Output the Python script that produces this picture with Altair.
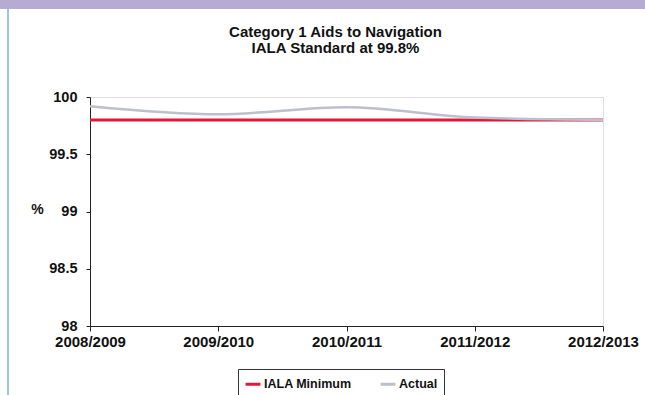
import altair as alt
import pandas as pd

years = ["2008/2009", "2009/2010", "2010/2011", "2011/2012", "2012/2013"]
actual = [99.92, 99.85, 99.91, 99.82, 99.80]
iala_min = [99.8, 99.8, 99.8, 99.8, 99.8]

series_names = ["IALA Minimum", "Actual"]
series_colors = ["#e3173a", "#bcbfcd"]

rows = []
for y, v in zip(years, iala_min):
    rows.append({"Year": y, "Value": v, "Series": "IALA Minimum"})
for y, v in zip(years, actual):
    rows.append({"Year": y, "Value": v, "Series": "Actual"})
df = pd.DataFrame(rows)

FONT = "Liberation Sans"

x_enc = alt.X("Year:N", sort=years,
              scale=alt.Scale(type="point", padding=0),
              axis=alt.Axis(title=None, labelFont=FONT, labelFontSize=15,
                            labelFontWeight="bold", labelColor="#111",
                            domainColor="#222", tickColor="#222",
                            tickSize=5, labelPadding=3, labelAngle=0))
y_enc = alt.Y("Value:Q", scale=alt.Scale(domain=[98, 100], nice=False, zero=False),
              axis=alt.Axis(title="%", titleAngle=0, titleFont=FONT, titleFontSize=14,
                            titleFontWeight="bold", titleX=-53, titleY=119,
                            titleColor="#111",
                            values=[98, 98.5, 99, 99.5, 100],
                            labelExpr="datum.value",
                            labelFont=FONT, labelFontSize=14.5, labelFontWeight="bold",
                            labelColor="#111", domainColor="#222", tickColor="#222",
                            tickSize=4, labelPadding=9, grid=False))

color_enc = alt.Color("Series:N",
                      scale=alt.Scale(domain=series_names, range=series_colors),
                      legend=alt.Legend(title=None, orient="none", direction="horizontal",
                                        legendX=148, legendY=272,
                                        labelFont=FONT, labelFontSize=12.5,
                                        labelFontWeight="bold", labelColor="#111",
                                        symbolType="stroke", symbolStrokeWidth=3,
                                        symbolSize=220,
                                        strokeColor="#333", padding=6,
                                        columnPadding=22, labelOffset=2))

lines = alt.Chart(df).mark_line(interpolate="monotone").encode(
    x=x_enc, y=y_enc, color=color_enc,
    strokeWidth=alt.condition(alt.datum.Series == "IALA Minimum", alt.value(3), alt.value(2.5)),
)

band = alt.Chart(pd.DataFrame({"a": [0]})).mark_rect(color="#b7aad3", clip=False).encode(
    x=alt.value(-90), x2=alt.value(555), y=alt.value(-97), y2=alt.value(-88))
edge = alt.Chart(pd.DataFrame({"a": [0]})).mark_rule(color="#9fc3e6", strokeWidth=2, clip=False).encode(
    x=alt.value(-82), y=alt.value(-88), y2=alt.value(298))

chart = alt.layer(band, edge, lines).properties(
    width=513, height=229,
    title=alt.TitleParams(["Category 1 Aids to Navigation", "IALA Standard at 99.8%"],
                          font=FONT, fontSize=15, fontWeight="bold", color="#111",
                          anchor="middle", dx=-11, offset=-56, lineHeight=16),
    autosize=alt.AutoSizeParams(type="none"),
    padding={"left": 90, "top": 97, "right": 42, "bottom": 69},
).configure_view(stroke=None).configure(background="white")

chart.save("out.html", embed_options={"renderer": "svg", "actions": False})
